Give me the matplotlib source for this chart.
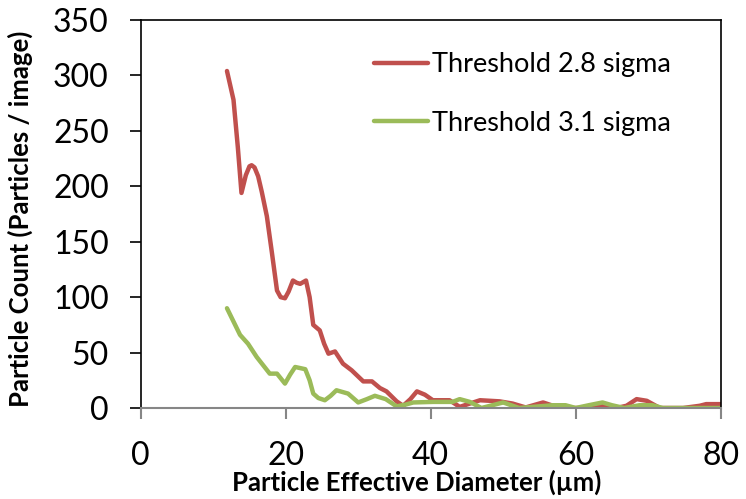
import matplotlib
matplotlib.use('Agg')
import matplotlib.pyplot as plt

plt.rcParams['font.family'] = ['Lato', 'DejaVu Sans']

RED   = '#C0504D'
GREEN = '#9BBB59'
AXIS_GRAY = '#868686'

# Threshold 2.8 sigma
red_x = [11.9, 12.8, 13.4, 13.9, 14.5, 15.0, 15.3, 15.7, 16.2, 16.7, 17.4, 18.1,
         18.8, 19.3, 19.9, 20.4, 21.0, 21.5, 22.0, 22.8, 23.3, 23.8, 24.7, 25.3,
         25.9, 26.8, 27.9, 29.1, 30.7, 31.9, 33.0, 33.9, 35.3, 36.2, 37.2, 38.1,
         39.2, 40.3, 42.6, 44.0, 46.8, 49.5, 51.3, 53.1, 55.5, 57.8, 60.1, 62.4,
         63.8, 65.6, 67.0, 68.4, 69.8, 71.6, 74.8, 77.1, 78.0, 80.0]
red_y = [304, 278, 235, 194, 210, 218, 219, 217, 209, 195, 173, 140,
         106, 100, 99, 105, 115, 113, 112, 115, 100, 75, 70, 58,
         49, 51, 40, 34, 24, 24, 18, 15, 6, 2, 8, 15,
         12, 7, 7, 1, 7, 6, 4, 0.5, 5, 0, 0, 0,
         2, 0, 2, 8, 6.5, 0, 0, 2, 3.5, 3.5]

# Threshold 3.1 sigma
green_x = [11.9, 13.7, 14.8, 16.0, 17.8, 18.8, 19.9, 20.6, 21.3, 22.7, 23.3, 23.8,
           24.5, 25.4, 26.2, 27.0, 28.6, 30.0, 31.2, 32.3, 33.8, 35.3, 36.5, 37.6,
           40.3, 43.0, 44.0, 45.4, 47.0, 50.0, 52.2, 56.8, 58.6, 60.0, 61.8, 63.7,
           65.0, 66.7, 68.8, 70.6, 72.0, 80.0]
green_y = [90, 66, 58, 46, 31, 31, 22, 30, 37, 35, 25, 13,
           9, 7, 11, 16, 13, 5, 8, 11, 8, 1.5, 3, 5,
           5.5, 5.5, 8, 5.5, 0, 5, 0, 2.5, 2.5, 0, 2.5, 5,
           2.5, 0, 2.5, 2.5, 0, 0]

fig = plt.figure(figsize=(7.46, 4.99), dpi=100)
ax = fig.add_axes([140.7 / 746, 1 - 408 / 499, 580 / 746, 388 / 499])

ax.plot(red_x, red_y, color=RED, lw=3.2, solid_joinstyle='round',
        solid_capstyle='round', label='Threshold 2.8 sigma')
ax.plot(green_x, green_y, color=GREEN, lw=3.2, solid_joinstyle='round',
        solid_capstyle='round', label='Threshold 3.1 sigma')

ax.set_xlim(0, 80)
ax.set_ylim(0, 350)
ax.set_xticks([0, 20, 40, 60, 80])
ax.set_yticks(range(0, 351, 50))

for side in ['left', 'top', 'right']:
    ax.spines[side].set_color('black')
    ax.spines[side].set_linewidth(1.2)
ax.spines['bottom'].set_color(AXIS_GRAY)
ax.spines['bottom'].set_linewidth(1.5)

ax.tick_params(axis='y', direction='out', length=8, width=1.2, color='black',
               labelsize=23, pad=15)
ax.tick_params(axis='x', direction='out', length=8, width=1.5, color=AXIS_GRAY,
               labelsize=23, pad=16)

ax.set_xlabel('Particle Effective Diameter (µm)', fontsize=18.5, fontweight='bold')
ax.xaxis.set_label_coords(0.475, -0.16)
ax.set_ylabel('Particle Count (Particles / image)', fontsize=18.5, fontweight='bold')
ax.yaxis.set_label_coords(-0.186, 0.487)

leg = ax.legend(loc='upper left', bbox_to_anchor=(374 / 746, 1 - 52 / 499),
                bbox_transform=fig.transFigure, frameon=False, borderpad=0,
                borderaxespad=0, fontsize=19.5, handlelength=2.0,
                handletextpad=0.15, labelspacing=1.25)

fig.savefig('out.png', dpi=100)
